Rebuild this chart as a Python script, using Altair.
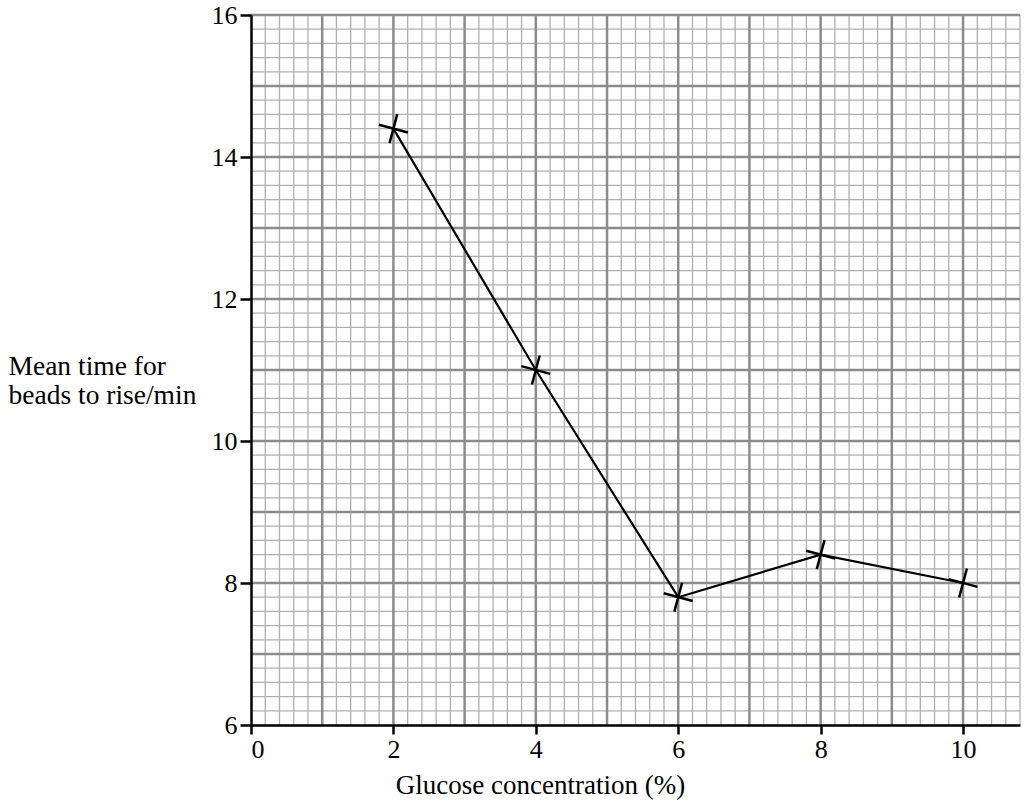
import altair as alt
import pandas as pd

# Measured points
glucose = [2, 4, 6, 8, 10]
mean_time = [14.4, 11.0, 7.8, 8.4, 8.0]

x_ticks = [0, 2, 4, 6, 8, 10]
y_ticks = [6, 8, 10, 12, 14, 16]

X_MAX = 10.8
Y_MIN, Y_MAX = 6, 16
FONT = "Times New Roman, Liberation Serif, DejaVu Serif, serif"

data = pd.DataFrame({"glucose": glucose, "time": mean_time})

# Graph-paper lines: fine lines every 0.2, heavier lines every whole unit
x_minor = [round(i * 0.2, 1) for i in range(1, int(X_MAX * 5) + 1) if i % 5 != 0]
x_major = [float(i) for i in range(1, int(X_MAX) + 1)]
y_minor = [round(Y_MIN + i * 0.2, 1) for i in range(1, (Y_MAX - Y_MIN) * 5 + 1) if i % 5 != 0]
y_major = [float(v) for v in range(Y_MIN + 1, Y_MAX + 1)]

x_scale = alt.Scale(domain=[0, X_MAX], nice=False, zero=False)
y_scale = alt.Scale(domain=[Y_MIN, Y_MAX], nice=False, zero=False)

x_axis = alt.Axis(
    values=x_ticks, grid=False, domainColor="black", domainWidth=2.5,
    tickColor="black", tickWidth=2.5, tickSize=9, labelPadding=2,
    labelFont=FONT, labelFontSize=26, labelColor="black",
    title="Glucose concentration (%)", titleFont=FONT, titleFontSize=27,
    titleFontWeight="normal", titleColor="black", titleX=289, titleY=68,
    titleAlign="center", titleBaseline="alphabetic", zindex=2,
)
y_axis = alt.Axis(
    values=y_ticks, grid=False, domainColor="black", domainWidth=2.5,
    tickColor="black", tickWidth=2.5, tickSize=11, labelPadding=3,
    labelFont=FONT, labelFontSize=26, labelColor="black",
    title=["Mean time for", "beads to rise/min"], titleFont=FONT, titleFontSize=27.5,
    titleFontWeight="normal", titleColor="black", titleAngle=0, titleAlign="left",
    titleX=-243, titleY=359, titleBaseline="alphabetic", titleLineHeight=29, zindex=2,
)


def vlines(values, color, width):
    return alt.Chart(pd.DataFrame({"glucose": values})).mark_rule(
        color=color, strokeWidth=width
    ).encode(x=alt.X("glucose:Q", scale=x_scale, axis=x_axis))


def hlines(values, color, width):
    return alt.Chart(pd.DataFrame({"time": values})).mark_rule(
        color=color, strokeWidth=width
    ).encode(y=alt.Y("time:Q", scale=y_scale, axis=y_axis))


grid = [
    vlines(x_minor, "#b0b0b0", 1.3),
    hlines(y_minor, "#b0b0b0", 1.3),
    vlines(x_major, "#8c8c8c", 2.5),
    hlines(y_major, "#8c8c8c", 2.5),
]

base = alt.Chart(data).encode(
    x=alt.X("glucose:Q", scale=x_scale, axis=x_axis),
    y=alt.Y("time:Q", scale=y_scale, axis=y_axis),
)

line = base.mark_line(color="black", strokeWidth=2.2)

# Plotted crosses: a plus sign tilted clockwise
crosses = base.mark_point(
    shape="M-1,0L1,0M0,-1L0,1", size=900, angle=15,
    filled=False, stroke="black", strokeWidth=2.5, opacity=1,
)

chart = (
    alt.layer(*grid, line, crosses)
    .properties(
        width=769, height=710,
        autosize=alt.AutoSizeParams(type="none"),
        padding={"left": 251, "top": 15, "right": 5, "bottom": 78},
        background="white",
    )
    .configure_view(stroke=None)
)

chart.save("out.html", embed_options={"renderer": "svg", "actions": False})
